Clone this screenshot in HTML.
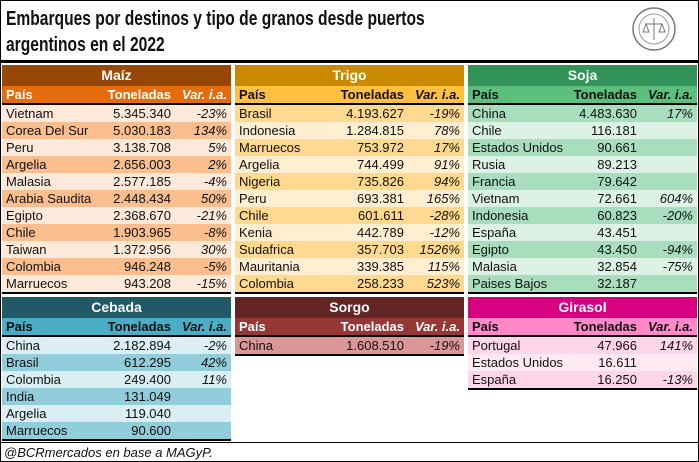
<!DOCTYPE html>
<html><head><meta charset="utf-8"><style>
*{margin:0;padding:0;box-sizing:border-box}
body{width:699px;height:462px;background:#fff;position:relative;overflow:hidden;font-family:"Liberation Sans",Arial,sans-serif;font-size:13px;color:#111}
.t{position:absolute;left:6px;font-weight:bold;font-size:20px;white-space:nowrap;transform-origin:0 0;transform:scaleX(0.78);color:#111}
.p{position:absolute;width:229px}
.p div{height:17px;line-height:17px;position:relative;white-space:nowrap}
.p .h1{height:21px;line-height:21px;text-align:center;color:#fff;font-weight:bold;font-size:14px}
.p .h2{font-weight:bold;border-bottom:2px solid #000;height:19px}
.p .last{border-bottom:2px solid #000;height:19px}
.p span{position:absolute;top:0}
.a{left:4px}.b{right:60px;text-align:right}.c{right:4px;font-style:italic}
</style></head><body>
<div style="position:absolute;left:0;top:0;width:699px;height:462px;border:1px solid #000"></div>
<div class="t" style="top:8px">Embarques por destinos y tipo de granos desde puertos</div>
<div class="t" style="top:34px">argentinos en el 2022</div>
<svg style="position:absolute;left:630px;top:6px" width="48" height="48"><circle cx="24" cy="23" r="21" fill="#fff" stroke="#777" stroke-width="1.5"/><circle cx="24" cy="23" r="15" fill="none" stroke="#999" stroke-width="1"/><path d="M24 12v22M16 18h16M16 18l-3 8h6zM32 18l-3 8h6z" stroke="#777" fill="none"/></svg>
<div style="position:absolute;left:0;top:60px;width:699px;height:3px;background:#000"></div>

<div class="p" style="left:2px;top:65px">
<div class="h1" style="background:#974706">Maíz</div>
<div class="h2" style="background:#E46C0A;color:#fff"><span class="a">País</span><span class="b">Toneladas</span><span class="c">Var. i.a.</span></div>
<div style="background:#FDE9D9"><span class="a">Vietnam</span><span class="b">5.345.340</span><span class="c">-23%</span></div>
<div style="background:#FBBF8F"><span class="a">Corea Del Sur</span><span class="b">5.030.183</span><span class="c">134%</span></div>
<div style="background:#FDE9D9"><span class="a">Peru</span><span class="b">3.138.708</span><span class="c">5%</span></div>
<div style="background:#FBBF8F"><span class="a">Argelia</span><span class="b">2.656.003</span><span class="c">2%</span></div>
<div style="background:#FDE9D9"><span class="a">Malasia</span><span class="b">2.577.185</span><span class="c">-4%</span></div>
<div style="background:#FBBF8F"><span class="a">Arabia Saudita</span><span class="b">2.448.434</span><span class="c">50%</span></div>
<div style="background:#FDE9D9"><span class="a">Egipto</span><span class="b">2.368.670</span><span class="c">-21%</span></div>
<div style="background:#FBBF8F"><span class="a">Chile</span><span class="b">1.903.965</span><span class="c">-8%</span></div>
<div style="background:#FDE9D9"><span class="a">Taiwan</span><span class="b">1.372.956</span><span class="c">30%</span></div>
<div style="background:#FBBF8F"><span class="a">Colombia</span><span class="b">946.248</span><span class="c">-5%</span></div>
<div class="last" style="background:#FDE9D9"><span class="a">Marruecos</span><span class="b">943.208</span><span class="c">-15%</span></div>
</div>

<div class="p" style="left:235px;top:65px">
<div class="h1" style="background:#C98A00">Trigo</div>
<div class="h2" style="background:#FFC040;color:#111"><span class="a">País</span><span class="b">Toneladas</span><span class="c">Var. i.a.</span></div>
<div style="background:#FFD98F"><span class="a">Brasil</span><span class="b">4.193.627</span><span class="c">-19%</span></div>
<div style="background:#FFEFD0"><span class="a">Indonesia</span><span class="b">1.284.815</span><span class="c">78%</span></div>
<div style="background:#FFD98F"><span class="a">Marruecos</span><span class="b">753.972</span><span class="c">17%</span></div>
<div style="background:#FFEFD0"><span class="a">Argelia</span><span class="b">744.499</span><span class="c">91%</span></div>
<div style="background:#FFD98F"><span class="a">Nigeria</span><span class="b">735.826</span><span class="c">94%</span></div>
<div style="background:#FFEFD0"><span class="a">Peru</span><span class="b">693.381</span><span class="c">165%</span></div>
<div style="background:#FFD98F"><span class="a">Chile</span><span class="b">601.611</span><span class="c">-28%</span></div>
<div style="background:#FFEFD0"><span class="a">Kenia</span><span class="b">442.789</span><span class="c">-12%</span></div>
<div style="background:#FFD98F"><span class="a">Sudafrica</span><span class="b">357.703</span><span class="c">1526%</span></div>
<div style="background:#FFEFD0"><span class="a">Mauritania</span><span class="b">339.385</span><span class="c">115%</span></div>
<div class="last" style="background:#FFD98F"><span class="a">Colombia</span><span class="b">258.233</span><span class="c">523%</span></div>
</div>

<div class="p" style="left:468px;top:65px">
<div class="h1" style="background:#339258">Soja</div>
<div class="h2" style="background:#5CBF7C;color:#111"><span class="a">País</span><span class="b">Toneladas</span><span class="c">Var. i.a.</span></div>
<div style="background:#A8DDBD"><span class="a">China</span><span class="b">4.483.630</span><span class="c">17%</span></div>
<div style="background:#DCF2E4"><span class="a">Chile</span><span class="b">116.181</span><span class="c"></span></div>
<div style="background:#A8DDBD"><span class="a">Estados Unidos</span><span class="b">90.661</span><span class="c"></span></div>
<div style="background:#DCF2E4"><span class="a">Rusia</span><span class="b">89.213</span><span class="c"></span></div>
<div style="background:#A8DDBD"><span class="a">Francia</span><span class="b">79.642</span><span class="c"></span></div>
<div style="background:#DCF2E4"><span class="a">Vietnam</span><span class="b">72.661</span><span class="c">604%</span></div>
<div style="background:#A8DDBD"><span class="a">Indonesia</span><span class="b">60.823</span><span class="c">-20%</span></div>
<div style="background:#DCF2E4"><span class="a">España</span><span class="b">43.451</span><span class="c"></span></div>
<div style="background:#A8DDBD"><span class="a">Egipto</span><span class="b">43.450</span><span class="c">-94%</span></div>
<div style="background:#DCF2E4"><span class="a">Malasia</span><span class="b">32.854</span><span class="c">-75%</span></div>
<div class="last" style="background:#A8DDBD"><span class="a">Paises Bajos</span><span class="b">32.187</span><span class="c"></span></div>
</div>

<div class="p" style="left:2px;top:297px">
<div class="h1" style="background:#215967">Cebada</div>
<div class="h2" style="background:#4BACC6;color:#111"><span class="a">País</span><span class="b">Toneladas</span><span class="c">Var. i.a.</span></div>
<div style="background:#DAEEF3"><span class="a">China</span><span class="b">2.182.894</span><span class="c">-2%</span></div>
<div style="background:#92CDDC"><span class="a">Brasil</span><span class="b">612.295</span><span class="c">42%</span></div>
<div style="background:#DAEEF3"><span class="a">Colombia</span><span class="b">249.400</span><span class="c">11%</span></div>
<div style="background:#92CDDC"><span class="a">India</span><span class="b">131.049</span><span class="c"></span></div>
<div style="background:#DAEEF3"><span class="a">Argelia</span><span class="b">119.040</span><span class="c"></span></div>
<div class="last" style="background:#92CDDC"><span class="a">Marruecos</span><span class="b">90.600</span><span class="c"></span></div>
</div>

<div class="p" style="left:235px;top:297px">
<div class="h1" style="background:#632523">Sorgo</div>
<div class="h2" style="background:#953735;color:#fff"><span class="a">País</span><span class="b">Toneladas</span><span class="c">Var. i.a.</span></div>
<div class="last" style="background:#D99795"><span class="a">China</span><span class="b">1.608.510</span><span class="c">-19%</span></div>
</div>

<div class="p" style="left:468px;top:297px">
<div class="h1" style="background:#D60080">Girasol</div>
<div class="h2" style="background:#FF88C8;color:#111"><span class="a">País</span><span class="b">Toneladas</span><span class="c">Var. i.a.</span></div>
<div style="background:#FFD5EA"><span class="a">Portugal</span><span class="b">47.966</span><span class="c">141%</span></div>
<div style="background:#FFEAF4"><span class="a">Estados Unidos</span><span class="b">16.611</span><span class="c"></span></div>
<div class="last" style="background:#FFD5EA"><span class="a">España</span><span class="b">16.250</span><span class="c">-13%</span></div>
</div>

<div style="position:absolute;left:0;top:442px;width:699px;height:1px;background:#000"></div>
<div style="position:absolute;left:4px;top:445px;font-style:italic;font-size:13px">@BCRmercados en base a MAGyP.</div>
</body></html>
